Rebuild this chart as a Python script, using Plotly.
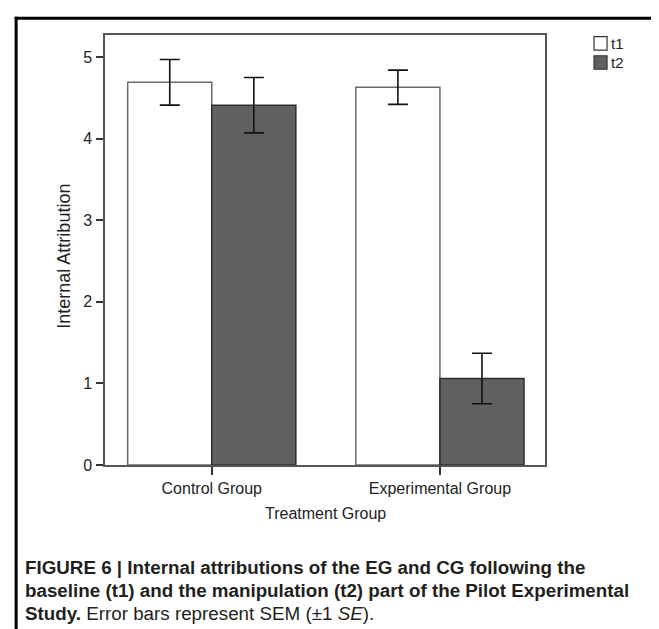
import plotly.graph_objects as go

# ---- data ----
categories = ["Control Group", "Experimental Group"]
series_names = ["t1", "t2"]
t1_values = [4.69, 4.63]
t2_values = [4.41, 1.06]
t1_se = [0.28, 0.21]
t2_se = [0.34, 0.31]
y_ticks = [0, 1, 2, 3, 4, 5]

# ---- layout geometry (pixels) ----
W, H = 659, 629
PL, PR, PT, PB = 97.3, 537.0, 27.3, 456.7
pw, ph = PR - PL, PB - PT

def px(x):
    return (x - PL) / pw

def py(y):
    return (PB - y) / ph

FONT = "Liberation Sans, Arial, sans-serif"

fig = go.Figure()
fig.add_trace(go.Bar(
    x=categories, y=t1_values, name=series_names[0],
    marker=dict(color="#ffffff", line=dict(color="#6a6a6a", width=1.5)),
    error_y=dict(type="data", array=t1_se, visible=True, color="#111111", thickness=1.6, width=10),
    showlegend=False,
))
fig.add_trace(go.Bar(
    x=categories, y=t2_values, name=series_names[1],
    marker=dict(color="#606060", line=dict(color="#2e2e2e", width=1.5)),
    error_y=dict(type="data", array=t2_se, visible=True, color="#111111", thickness=1.6, width=10),
    showlegend=False,
))

shapes = []
annotations = []

# manual legend
fills = ["#ffffff", "#606060"]
for i, name in enumerate(series_names):
    top = 29 + i * 19
    shapes.append(dict(type="rect", xref="paper", yref="paper",
                       x0=px(586), x1=px(599), y0=py(top), y1=py(top + 13.5),
                       fillcolor=fills[i], line=dict(color="#333333", width=1.2)))
    annotations.append(dict(xref="paper", yref="paper", x=px(600.5), y=py(top + 7),
                            xanchor="left", yanchor="middle", showarrow=False,
                            text=name, font=dict(family=FONT, size=15, color="#222222")))

# figure frame (top and left rules)
shapes.append(dict(type="line", xref="paper", yref="paper",
                   x0=px(7), x1=px(W + 5), y0=py(10.5), y1=py(10.5),
                   line=dict(color="#000000", width=3)))
shapes.append(dict(type="line", xref="paper", yref="paper",
                   x0=px(8.5), x1=px(8.5), y0=py(9), y1=py(H + 5),
                   line=dict(color="#000000", width=3)))

# axis titles
annotations.append(dict(xref="paper", yref="paper", x=0.5, y=py(505),
                        xanchor="center", yanchor="middle", showarrow=False,
                        text="Treatment Group", font=dict(family=FONT, size=16, color="#222222")))
annotations.append(dict(xref="paper", yref="paper", x=px(56), y=py(248),
                        xanchor="center", yanchor="middle", showarrow=False, textangle=-90,
                        text="Internal Attribution", font=dict(family=FONT, size=18, color="#222222")))

# caption
cap_font = dict(family=FONT, size=18.8, color="#231f20")
cap_lines = [
    "<b>FIGURE 6 | Internal attributions of the EG and CG following the</b>",
    "<b>baseline (t1) and the manipulation (t2) part of the Pilot Experimental</b>",
    "<b>Study.</b> Error bars represent SEM (±1 <i>SE</i>).",
]
for i, line in enumerate(cap_lines):
    annotations.append(dict(xref="paper", yref="paper", x=px(15), y=py(559 + i * 23),
                            xanchor="left", yanchor="middle", showarrow=False,
                            text=line, font=cap_font))

fig.update_layout(
    width=W, height=H,
    margin=dict(l=PL, r=W - PR, t=PT, b=H - PB, pad=0),
    paper_bgcolor="#ffffff", plot_bgcolor="#ffffff",
    barmode="group", bargap=0.263, bargroupgap=0,
    showlegend=False,
    shapes=shapes, annotations=annotations,
    font=dict(family=FONT, size=16, color="#222222"),
)
fig.update_xaxes(
    range=[-0.468, 1.4605], showgrid=False, zeroline=False,
    showline=True, mirror=True, linecolor="#555555", linewidth=1.5,
    ticks="outside", ticklen=8, tickcolor="#333333", tickwidth=1.5,
    tickfont=dict(family=FONT, size=16, color="#222222"),
    ticklabelstandoff=0,
)
fig.update_yaxes(
    range=[0, 5.27], tickvals=y_ticks, showgrid=False, zeroline=False,
    showline=True, mirror=True, linecolor="#555555", linewidth=1.5,
    ticks="outside", ticklen=7, tickcolor="#333333", tickwidth=1.5,
    tickfont=dict(family=FONT, size=16, color="#222222"),
    ticklabelstandoff=1,
)

fig.write_html("out.html")
